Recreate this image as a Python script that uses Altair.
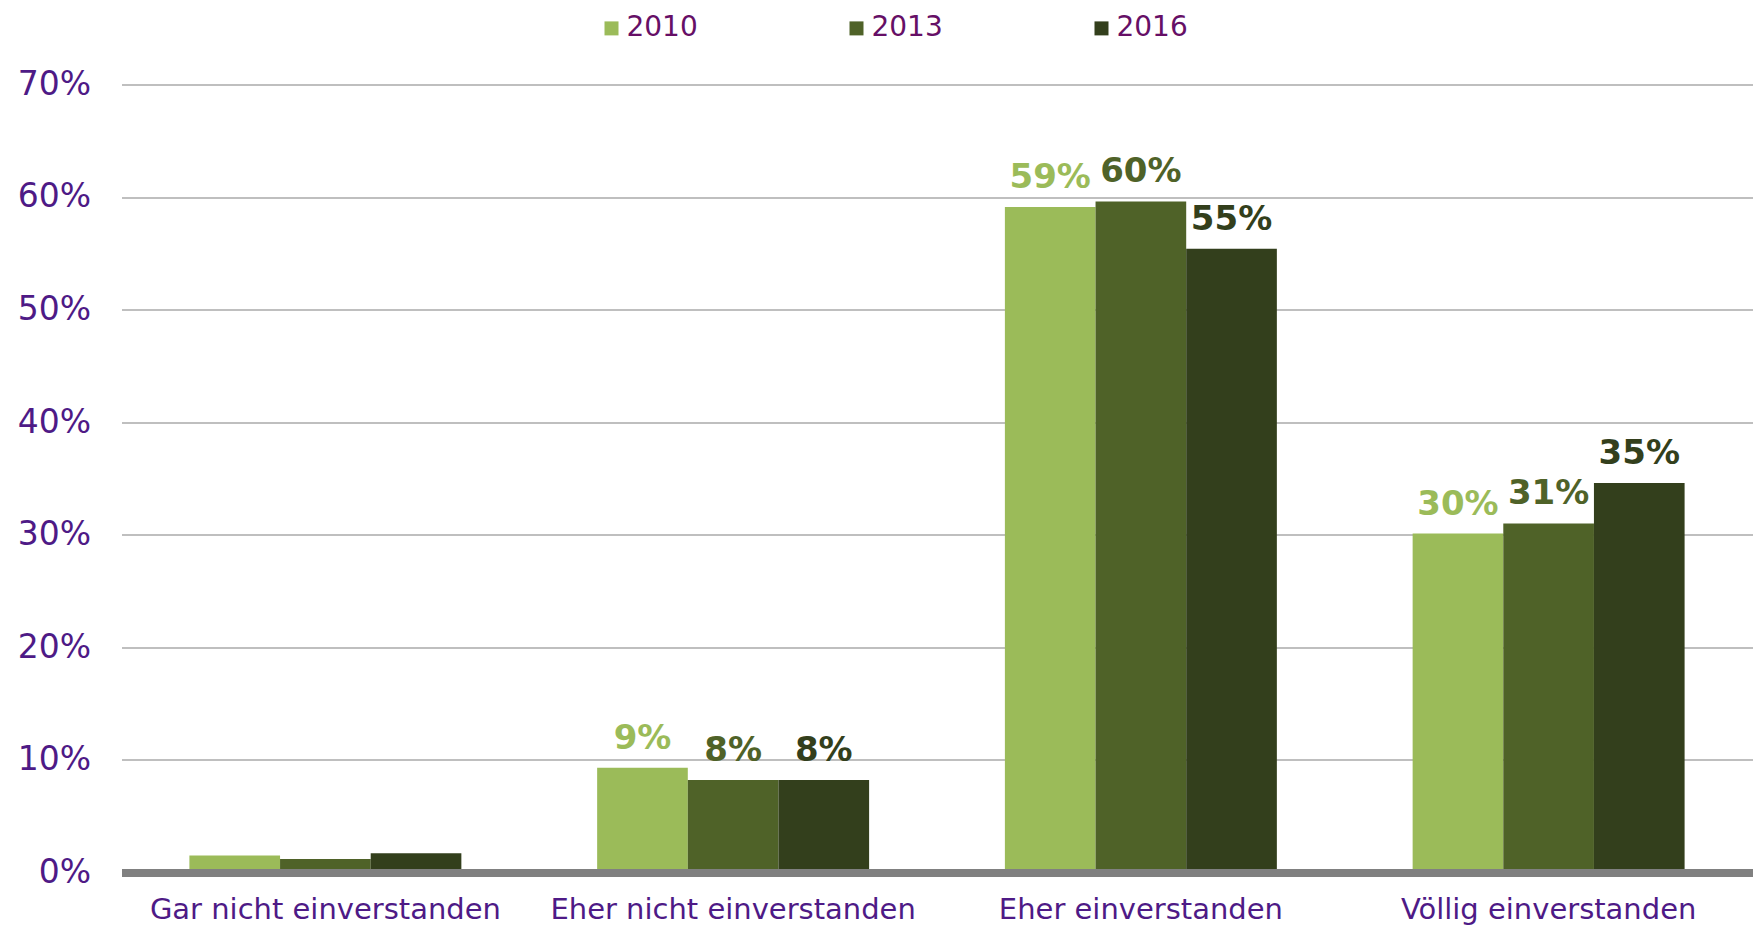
import altair as alt
import pandas as pd

categories = ["Gar nicht einverstanden", "Eher nicht einverstanden",
              "Eher einverstanden", "Völlig einverstanden"]
years = ["2010", "2013", "2016"]
v2010 = [1.5, 9.3, 59.1, 30.1]
v2013 = [1.2, 8.2, 59.6, 31.0]
v2016 = [1.7, 8.2, 55.4, 34.6]
show_label = [False, True, True, True]
colors = ["#9BBB59", "#4F6228", "#333F1C"]
y_ticks = [0, 0.1, 0.2, 0.3, 0.4, 0.5, 0.6, 0.7]

rows = []
for i, c in enumerate(categories):
    for yr, vals in zip(years, [v2010, v2013, v2016]):
        rows.append({
            "cat": c,
            "year": yr,
            "value": vals[i] / 100,
            "label": f"{round(vals[i])}%" if show_label[i] else "",
        })
df = pd.DataFrame(rows)

AXIS_COLOR = "#4E1A86"
LEGEND_COLOR = "#660F66"

x = alt.X("cat:N", sort=categories,
          scale=alt.Scale(paddingInner=0.333, paddingOuter=0.1665),
          axis=alt.Axis(title=None, labelAngle=0, labelFontSize=29,
                        labelLimit=0,
                        labelColor=AXIS_COLOR, domainColor="#808080",
                        domainWidth=8, ticks=False, labelPadding=23,
                        zindex=1, grid=False))
xo = alt.XOffset("year:N", sort=years,
                 scale=alt.Scale(paddingInner=0, paddingOuter=0))
y = alt.Y("value:Q", scale=alt.Scale(domain=[0, 0.7], nice=False),
          axis=alt.Axis(title=None, values=y_ticks, format=".0%",
                        labelFontSize=33, labelColor=AXIS_COLOR,
                        domain=False, ticks=False, labelPadding=31,
                        gridColor="#BFBFBF", gridWidth=2))
color_scale = alt.Scale(domain=years, range=colors)

bars = alt.Chart(df).mark_bar().encode(
    x=x, xOffset=xo, y=y,
    color=alt.Color("year:N", scale=color_scale,
                    legend=alt.Legend(title=None, orient="none",
                                      legendX=476, legendY=-70,
                                      direction="horizontal",
                                      symbolType="square", symbolSize=196,
                                      symbolStrokeWidth=0,
                                      labelFontSize=28,
                                      labelColor=LEGEND_COLOR,
                                      labelOffset=1, columnPadding=144)),
)

text = alt.Chart(df).mark_text(baseline="alphabetic", dy=-19,
                               fontSize=34, fontWeight="bold").encode(
    x=x, xOffset=xo, y=y,
    text="label:N",
    color=alt.Color("year:N", scale=color_scale, legend=None),
)

chart = (bars + text).properties(
    width=1631, height=788,
    autosize=alt.AutoSizeParams(type="none"),
    padding={"left": 113.5, "top": 76.4, "right": 3, "bottom": 57},
).configure(font="DejaVu Sans").configure_view(stroke=None)

chart.save("out.html", embed_options={"renderer": "svg", "actions": False})
